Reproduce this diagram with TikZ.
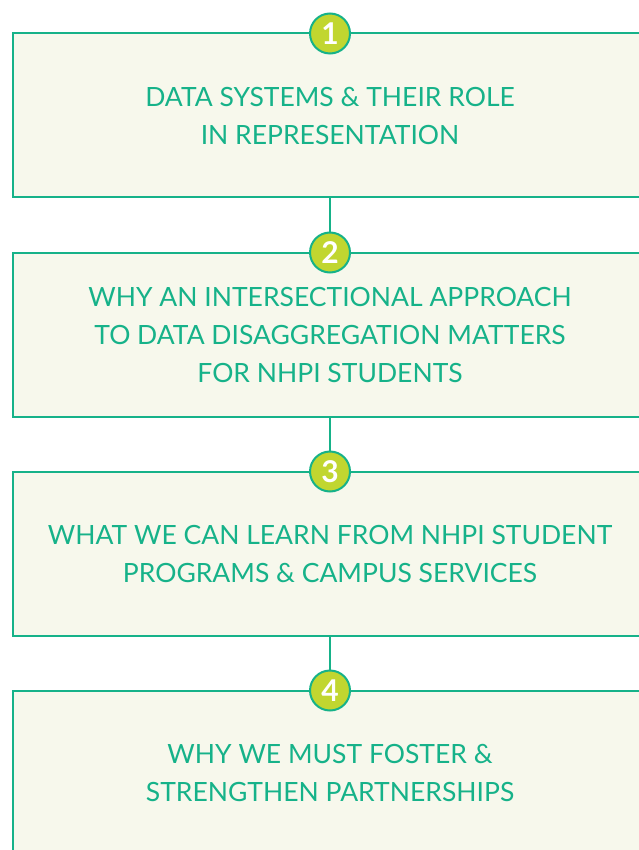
\documentclass[tikz,border=0pt]{standalone}
\usepackage{fontspec}
\setmainfont{Lato}
\definecolor{stepteal}{RGB}{22, 178, 137}
\definecolor{stepcream}{RGB}{247, 248, 236}
\definecolor{steplime}{RGB}{193, 214, 48}
\usetikzlibrary{positioning}
\tikzset{
  topicbox/.style={draw=stepteal, fill=stepcream, line width=2pt, outer sep=0pt,
    minimum width=634pt, minimum height=164pt, align=center, text=stepteal,
    text depth=0pt, font=\fontsize{26.5}{38}\selectfont},
  numbadge/.style={circle, draw=stepteal, fill=steplime, line width=2pt,
    minimum size=40pt, inner sep=0pt, text=white, font=\fontsize{30}{30}\selectfont\bfseries},
}

\begin{document}
\begin{tikzpicture}[x=1pt, y=1pt]
  \useasboundingbox (0,0) rectangle (638,-850);

  % the four topics
  \node[topicbox] (box1) at (330,-115.5) {DATA SYSTEMS \& THEIR ROLE\\IN REPRESENTATION};
  \node[topicbox, below=55pt of box1] (box2) {WHY AN INTERSECTIONAL APPROACH\\TO DATA DISAGGREGATION MATTERS\\FOR NHPI STUDENTS};
  \node[topicbox, below=55pt of box2] (box3) {WHAT WE CAN LEARN FROM NHPI STUDENT\\PROGRAMS \& CAMPUS SERVICES};
  \node[topicbox, below=55pt of box3] (box4) {WHY WE MUST FOSTER \&\\STRENGTHEN PARTNERSHIPS};

  % links between them
  \draw[stepteal, line width=2pt] (box1.south) -- (box2.north);
  \draw[stepteal, line width=2pt] (box2.south) -- (box3.north);
  \draw[stepteal, line width=2pt] (box3.south) -- (box4.north);

  % numbers
  \node[numbadge] (num1) at (box1.north) {1};
  \node[numbadge] (num2) at (box2.north) {2};
  \node[numbadge] (num3) at (box3.north) {3};
  \node[numbadge] (num4) at (box4.north) {4};
\end{tikzpicture}
\end{document}
